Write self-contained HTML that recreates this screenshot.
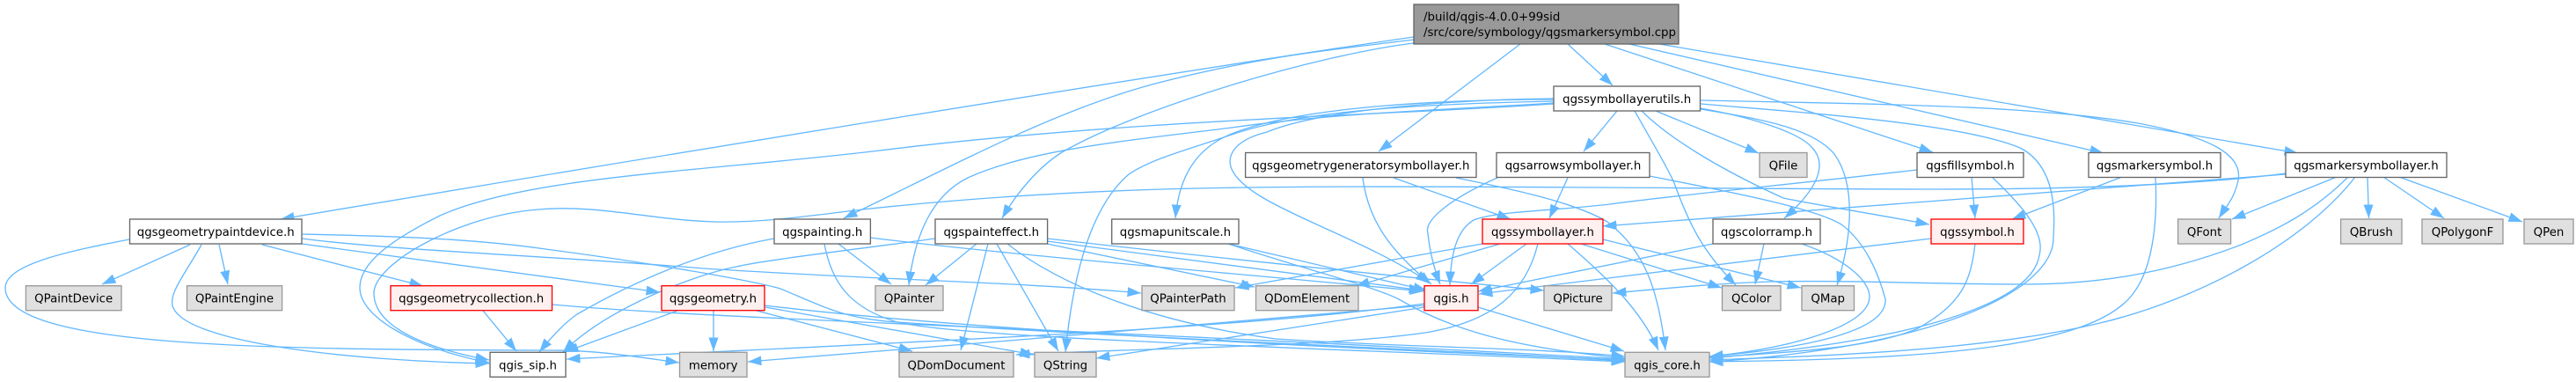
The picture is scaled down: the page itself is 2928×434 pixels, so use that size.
<!DOCTYPE html>
<html><head><meta charset="utf-8"><style>
html,body{margin:0;padding:0;background:#fff;width:2928px;height:434px;overflow:hidden}
svg{display:block}
text{font-family:"DejaVu Sans","Liberation Sans",sans-serif;font-size:13.33px;fill:#000}
.t{text-anchor:middle}
.w{fill:#fff;stroke:#666;stroke-width:1.33}
.g{fill:#e0e0e0;stroke:#999;stroke-width:1.33}
.r{fill:#fff0f0;stroke:#f00;stroke-width:1.33}
.e path{fill:none;stroke:#63b8ff;stroke-width:1.33;marker-end:url(#a)}
</style></head><body>
<svg width="2928" height="434" viewBox="0 0 2928 434" xmlns="http://www.w3.org/2000/svg">
<defs><marker id="a" markerUnits="userSpaceOnUse" markerWidth="16" markerHeight="12" refX="15.5" refY="5.5" orient="auto"><path d="M0,0L15.5,5.5L0,11z" fill="#63b8ff"/></marker></defs>
<g class="e">
<path d="M1607,42C1330,82 700,185 319,249"/>
<path d="M1607,45C1530,55 1440,62 1313,95C1200,125 1090,185 959,248"/>
<path d="M1607,49C1500,62 1300,120 1207,173C1180,190 1155,220 1139,248"/>
<path d="M1728,50L1567,172"/>
<path d="M1782,50L1833,97"/>
<path d="M1824,50L2197,173"/>
<path d="M1852,50L2391,174"/>
<path d="M1886,50L2612,174"/>
<path d="M1838,126L1800,172"/>
<path d="M1882,126L1999,174"/>
<path d="M1858,126C1880,165 1895,190 1903,208C1920,255 1935,285 1973,324"/>
<path d="M1866,126C1895,155 1950,190 2027,225C2060,232 2130,243 2193,255"/>
<path d="M1933,123C1990,133 2045,150 2060,168C2080,190 2060,220 2028,248"/>
<path d="M1933,124C2000,135 2060,145 2085,175C2110,210 2105,270 2088,324"/>
<path d="M1933,114C2100,118 2300,118 2430,140C2510,155 2550,175 2544,205C2540,225 2530,235 2522,248"/>
<path d="M1933,118C2050,128 2230,140 2296,168C2340,190 2335,250 2334,270C2335,330 2200,395 1943,411"/>
<path d="M1766,118C1600,130 1290,135 1000,171C800,195 600,200 500,245C440,275 409,300 409,327C409,360 470,395 556,412"/>
<path d="M1766,117C1640,125 1520,128 1400,145C1280,160 1170,170 1100,202C1060,222 1040,265 1033,324"/>
<path d="M1766,115C1620,118 1480,125 1400,153C1350,170 1310,180 1283,198C1240,235 1220,310 1211,400"/>
<path d="M1766,113C1650,113 1480,120 1400,152C1360,168 1340,200 1336,248"/>
<path d="M1767,112C1650,113 1500,125 1440,150C1400,160 1392,180 1402,196C1425,235 1540,265 1625,321"/>
<path d="M1063,271C1000,280 870,295 837,303C790,312 690,350 640,400"/>
<path d="M1110,277L1052,324"/>
<path d="M1123,277L1092,398"/>
<path d="M1133,277L1203,399"/>
<path d="M1145,277C1200,320 1300,365 1450,385C1600,395 1750,395 1847,405"/>
<path d="M1190,277L1426,326"/>
<path d="M1190,274L1617,330"/>
<path d="M1190,271C1400,295 1600,315 1755,330"/>
<path d="M1396,277L1622,330"/>
<path d="M1396,277C1480,305 1560,325 1590,340C1650,375 1720,395 1847,407"/>
<path d="M1549,202C1555,250 1580,285 1627,323"/>
<path d="M1584,202L1717,249"/>
<path d="M1655,202C1720,215 1790,230 1827,252C1870,285 1885,330 1893,398"/>
<path d="M1702,202C1650,225 1618,250 1623,265C1625,285 1630,305 1637,323"/>
<path d="M1782,202L1761,248"/>
<path d="M1875,200C1950,215 2060,235 2093,255C2120,275 2135,310 2143,340C2145,375 2060,395 1943,405"/>
<path d="M1947,277L1680,331"/>
<path d="M2005,277L1995,323"/>
<path d="M2048,277C2100,295 2125,320 2125,337C2125,370 2040,395 1943,405"/>
<path d="M2195,271L1681,334"/>
<path d="M2245,277C2240,320 2230,345 2180,373C2130,395 2040,400 1943,406"/>
<path d="M2179,193C2050,208 1893,223 1830,232C1760,240 1700,240 1675,250C1655,262 1649,290 1648,324"/>
<path d="M2241,201L2245,248"/>
<path d="M2264,201C2300,235 2325,265 2318,290C2310,340 2200,385 1943,407"/>
<path d="M2412,201L2287,249"/>
<path d="M2450,201C2452,240 2450,300 2425,333C2380,395 2200,408 1943,411"/>
<path d="M2656,201L2537,249"/>
<path d="M2669,201C2630,240 2590,260 2550,277C2460,312 2380,323 2300,323C2200,323 2100,318 2012,320C1950,322 1890,328 1833,333"/>
<path d="M2677,201C2620,275 2500,340 2387,367C2250,400 2050,405 1943,409"/>
<path d="M2691,201L2692.5,248"/>
<path d="M2709,201L2778,248"/>
<path d="M2727,201L2867,252"/>
<path d="M2598,198L1822,257"/>
<path d="M2598,197C2500,210 2350,215 2200,215C2000,215 1600,210 1417,213C1250,215 1100,225 980,238C900,248 860,253 812,252C740,250 680,232 612,238C520,245 425,300 425,333C425,370 480,395 556,409"/>
<path d="M147,272C80,285 6,300 6,327C6,395 300,397 625,398C680,398 720,405 772,412"/>
<path d="M216,278L116,323"/>
<path d="M229,278C210,312 190,335 197,350C215,390 400,410 556,413"/>
<path d="M249,278L259,323"/>
<path d="M298,278L481,325"/>
<path d="M343,277L750,332"/>
<path d="M343,271C450,285 620,290 800,305C1000,318 1150,320 1297,333"/>
<path d="M343,266C430,268 530,270 620,283C750,300 860,320 887,328C940,350 960,362 1020,366C1300,385 1600,395 1847,410"/>
<path d="M549,353L587,399"/>
<path d="M628,346C800,362 1200,372 1847,408"/>
<path d="M770,353L642,400"/>
<path d="M811,353L811,399"/>
<path d="M860,353L1037,399"/>
<path d="M870,349L1175,403"/>
<path d="M869,347C1100,375 1500,395 1847,409"/>
<path d="M880,271C800,285 720,320 656,357C640,368 625,385 613,400"/>
<path d="M953,277L1013,323"/>
<path d="M937,277C945,320 965,350 1020,366C1100,385 1500,395 1847,411"/>
<path d="M989,270C1150,290 1400,310 1618,331"/>
<path d="M1619,345C1400,375 1000,390 644,408"/>
<path d="M1619,347C1400,365 1100,392 850,411"/>
<path d="M1619,349L1246,407"/>
<path d="M1680,349L1846,399"/>
<path d="M1685,277L1404,327"/>
<path d="M1705,277L1541,325"/>
<path d="M1735,277L1672,323"/>
<path d="M1748,277C1735,330 1700,365 1620,378C1500,395 1300,395 1155,403"/>
<path d="M1782,277C1820,310 1865,350 1885,398"/>
<path d="M1797,277L1957,327"/>
<path d="M1822,272L2047,327"/>
</g>
<rect x="1607" y="5" width="301" height="45" fill="#999" stroke="#666" stroke-width="1.33"/>
<text x="1618" y="23.5">/build/qgis-4.0.0+99sid</text>
<text x="1618" y="41">/src/core/symbology/qgsmarkersymbol.cpp</text>
<rect class="w" x="1766" y="98" width="166.5" height="28"/><text class="t" x="1849.2" y="117">qgssymbollayerutils.h</text>
<rect class="w" x="1415.6" y="173.5" width="262.4" height="28"/><text class="t" x="1546.8" y="192.5">qgsgeometrygeneratorsymbollayer.h</text>
<rect class="w" x="1701" y="173.5" width="174" height="28"/><text class="t" x="1788" y="192.5">qgsarrowsymbollayer.h</text>
<rect class="g" x="2000" y="173.5" width="54" height="28"/><text class="t" x="2027" y="192.5">QFile</text>
<rect class="w" x="2179" y="173.5" width="121" height="28"/><text class="t" x="2239.5" y="192.5">qgsfillsymbol.h</text>
<rect class="w" x="2374" y="173.5" width="150" height="28"/><text class="t" x="2449" y="192.5">qgsmarkersymbol.h</text>
<rect class="w" x="2598" y="173.5" width="183" height="28"/><text class="t" x="2689.5" y="192.5">qgsmarkersymbollayer.h</text>
<rect class="w" x="147.5" y="249" width="195.5" height="28"/><text class="t" x="245.2" y="268">qgsgeometrypaintdevice.h</text>
<rect class="w" x="880" y="249" width="109.4" height="28"/><text class="t" x="934.7" y="268">qgspainting.h</text>
<rect class="w" x="1063" y="249" width="127.6" height="28"/><text class="t" x="1126.8" y="268">qgspainteffect.h</text>
<rect class="w" x="1263.7" y="249" width="144.3" height="28"/><text class="t" x="1335.9" y="268">qgsmapunitscale.h</text>
<rect class="r" x="1685" y="249" width="137" height="28"/><text class="t" x="1753.5" y="268">qgssymbollayer.h</text>
<rect class="w" x="1947" y="249" width="122" height="28"/><text class="t" x="2008" y="268">qgscolorramp.h</text>
<rect class="r" x="2195" y="249" width="105" height="28"/><text class="t" x="2247.5" y="268">qgssymbol.h</text>
<rect class="g" x="2475.6" y="249" width="60" height="28"/><text class="t" x="2505.6" y="268">QFont</text>
<rect class="g" x="2660.6" y="249" width="69.4" height="28"/><text class="t" x="2695.3" y="268">QBrush</text>
<rect class="g" x="2753" y="249" width="92" height="28"/><text class="t" x="2799" y="268">QPolygonF</text>
<rect class="g" x="2869" y="249" width="56" height="28"/><text class="t" x="2897" y="268">QPen</text>
<rect class="g" x="29.4" y="324.7" width="108.6" height="28"/><text class="t" x="83.7" y="343.7">QPaintDevice</text>
<rect class="g" x="212.5" y="324.7" width="108.1" height="28"/><text class="t" x="266.5" y="343.7">QPaintEngine</text>
<rect class="r" x="444" y="324.7" width="183.5" height="28"/><text class="t" x="535.7" y="343.7">qgsgeometrycollection.h</text>
<rect class="r" x="752" y="324.7" width="117" height="28"/><text class="t" x="810.5" y="343.7">qgsgeometry.h</text>
<rect class="g" x="995" y="324.7" width="77" height="28"/><text class="t" x="1033.5" y="343.7">QPainter</text>
<rect class="g" x="1298" y="324.7" width="105" height="28"/><text class="t" x="1350.5" y="343.7">QPainterPath</text>
<rect class="g" x="1427.5" y="324.7" width="116.5" height="28"/><text class="t" x="1485.7" y="343.7">QDomElement</text>
<rect class="r" x="1619" y="324.7" width="61" height="28"/><text class="t" x="1649.5" y="343.7">qgis.h</text>
<rect class="g" x="1755" y="324.7" width="77" height="28"/><text class="t" x="1793.5" y="343.7">QPicture</text>
<rect class="g" x="1957.5" y="324.7" width="66.5" height="28"/><text class="t" x="1990.7" y="343.7">QColor</text>
<rect class="g" x="2048" y="324.7" width="59.5" height="28"/><text class="t" x="2077.7" y="343.7">QMap</text>
<rect class="w" x="557" y="400.3" width="86" height="28"/><text class="t" x="600" y="419.3">qgis_sip.h</text>
<rect class="g" x="772.5" y="400.3" width="76.5" height="28"/><text class="t" x="810.7" y="419.3">memory</text>
<rect class="g" x="1022" y="400.3" width="130" height="28"/><text class="t" x="1087" y="419.3">QDomDocument</text>
<rect class="g" x="1176" y="400.3" width="70" height="28"/><text class="t" x="1211" y="419.3">QString</text>
<rect class="g" x="1847" y="400.3" width="96" height="28"/><text class="t" x="1895" y="419.3">qgis_core.h</text>
</svg>
</body></html>
